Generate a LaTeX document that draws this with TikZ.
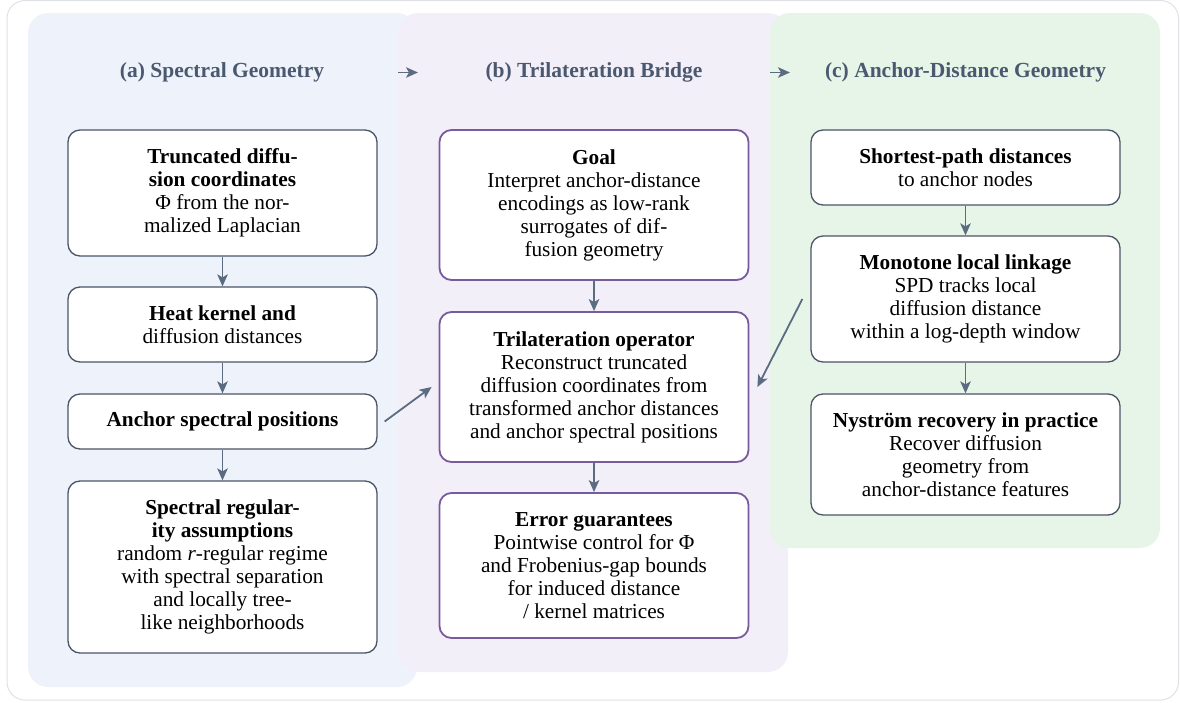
\documentclass[tikz,border=0pt]{standalone}
\usepackage{fontspec}
\setmainfont{Liberation Serif}
\usetikzlibrary{arrows.meta}
\definecolor{panelA}{HTML}{EEF3FB}
\definecolor{panelB}{HTML}{F2EFF9}
\definecolor{panelC}{HTML}{E7F5E8}
\definecolor{frameC}{HTML}{DEE1E6}
\definecolor{slate}{HTML}{4A5568}
\definecolor{arrowC}{HTML}{5B6B80}
\definecolor{purpleB}{HTML}{7A5A9E}
\definecolor{titleC}{HTML}{4A5870}
\begin{document}
\begin{tikzpicture}[x=1pt,y=-1pt,
  box/.style={draw=slate, line width=1.3pt, rounded corners=12pt, fill=white,
    align=center, inner sep=0pt, minimum width=309pt,
    font=\fontsize{21.3}{23}\selectfont, text=black},
  pbox/.style={box, draw=purpleB, line width=1.8pt},
  flow/.style={draw=arrowC, line width=1.8pt, -{Stealth[length=12pt,width=10.5pt,inset=3pt]}},
  ptitle/.style={font=\bfseries\fontsize{21.5}{23}\selectfont, text=titleC},
  panel/.style={rounded corners=20pt}]
\useasboundingbox (0,0) rectangle (1180,702);
\draw[frameC, line width=1pt, rounded corners=18pt] (7,0.5) rectangle (1178.5,700);
% panels
\fill[panelA, panel] (28,13) rectangle (417,687);
\fill[panelB, panel] (398,13) rectangle (788,672);
\fill[panelC, panel] (770,13) rectangle (1160,548);
% titles
\node[ptitle] (ta) at (222,72.5) {(a) Spectral Geometry};
\node[ptitle] (tb) at (594,72.5) {(b) Trilateration Bridge};
\node[ptitle] (tc) at (965.5,72.5) {(c) Anchor-Distance Geometry};
\coordinate (ab1) at (398,72.5);
\coordinate (ab2) at (418,72.5);
\coordinate (bc1) at (770,72.5);
\coordinate (bc2) at (790,72.5);
\draw[flow] (ab1) -- (ab2);
\draw[flow] (bc1) -- (bc2);
% column a
\node[box, minimum height=126pt] (a1) at (222.5,193) {\textbf{Truncated diffu-}\\\textbf{sion coordinates}\\Φ from the nor-\\malized Laplacian};
\node[box, minimum height=75pt] (a2) at (222.5,324.5) {\textbf{Heat kernel and}\\diffusion distances};
\node[box, minimum height=55pt] (a3) at (222.5,421.5) {\textbf{Anchor spectral positions}};
\node[box, minimum height=172pt] (a4) at (222.5,567) {\textbf{Spectral regular-}\\\textbf{ity assumptions}\\random \textit{r}-regular regime\\with spectral separation\\and locally tree-\\like neighborhoods};
% column b
\node[pbox, minimum height=150pt] (b1) at (594,205) {\textbf{Goal}\\Interpret anchor-distance\\encodings as low-rank\\surrogates of dif-\\fusion geometry};
\node[pbox, minimum height=150pt] (b2) at (594,387) {\textbf{Trilateration operator}\\Reconstruct truncated\\diffusion coordinates from\\transformed anchor distances\\and anchor spectral positions};
\node[pbox, minimum height=145pt] (b3) at (594,565.5) {\textbf{Error guarantees}\\Pointwise control for Φ\\and Frobenius-gap bounds\\for induced distance\\/ kernel matrices};
% column c
\node[box, minimum height=75pt] (c1) at (965.5,167.5) {\textbf{Shortest-path distances}\\to anchor nodes};
\node[box, minimum height=126pt] (c2) at (965.5,299) {\textbf{Monotone local linkage}\\SPD tracks local\\diffusion distance\\within a log-depth window};
\node[box, minimum height=121pt] (c3) at (965.5,454.5) {\textbf{Nyström recovery in practice}\\Recover diffusion\\geometry from\\anchor-distance features};
% connectors
\draw[flow] (a1) -- (a2);
\draw[flow] (a2) -- (a3);
\draw[flow] (a3) -- (a4);
\draw[flow] (b1) -- (b2);
\draw[flow] (b2) -- (b3);
\draw[flow] (c1) -- (c2);
\draw[flow] (c2) -- (c3);
\draw[flow] ([xshift=7pt]a3.east) -- ([xshift=-7pt]b2.west);
\draw[flow] ([xshift=-8pt]c2.west) -- ([xshift=8pt]b2.east);
\end{tikzpicture}
\end{document}
